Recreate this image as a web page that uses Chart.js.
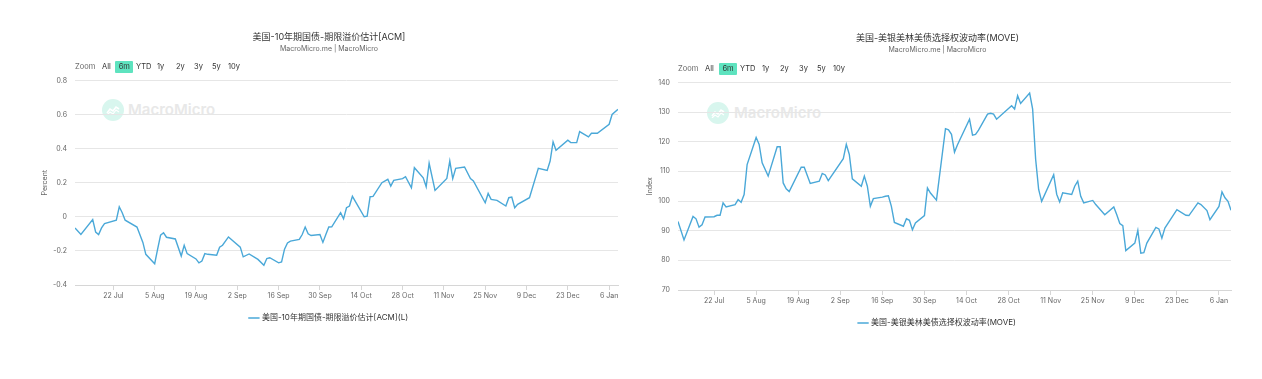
<!DOCTYPE html>
<html>
<head>
<meta charset="utf-8">
<script src="https://cdn.jsdelivr.net/npm/chart.js@4.4.0/dist/chart.umd.min.js"></script>
<style>
  html, body { margin: 0; padding: 0; background: #fff; }
  body { width: 1262px; height: 379px; position: relative; overflow: hidden;
         font-family: Inter, "Noto Sans CJK SC", sans-serif; }
  .wrap { position: absolute; top: 0; height: 379px; }
  .wrap canvas { position: absolute; left: 0; top: 0; }
  .rs { position: absolute; font-size: 7.5px; color: #333; height: 12px; line-height: 12px; white-space: nowrap; }
  .rs.label { color: #666; }
  .rs.sel { background: #5ee3bf; text-align: center; border-radius: 1px; }
  .wm { position: absolute; }
  .wm .dot { position: absolute; width: 22px; height: 22px; border-radius: 50%; background: #d8f6ee; }
  .wm .txt { position: absolute; font-size: 15px; font-weight: 600; color: #e8e8e8; line-height: 18px; white-space: nowrap; }
</style>
</head>
<body>
<script>
// ---------------- DATA ----------------
// ACM 10Y term premium (percent), dates are MM-DD (Jul–Dec 2024, Jan 2025)
const acmDates = ['07-09','07-11','07-15','07-16','07-17','07-18','07-19','07-23','07-24','07-25','07-26','07-30',
  '08-01','08-02','08-05','08-06','08-07','08-08','08-09','08-12','08-14','08-15','08-16','08-19','08-20','08-21',
  '08-22','08-23','08-26','08-27','08-28','08-30','09-03','09-04','09-06','09-09','09-11','09-12','09-13','09-16',
  '09-17','09-18','09-19','09-20','09-23','09-24','09-25','09-26','09-27','09-30','10-01','10-02','10-03','10-04',
  '10-07','10-08','10-09','10-10','10-11','10-15','10-16','10-17','10-18','10-21','10-23','10-24','10-25','10-28',
  '10-29','10-31','11-01','11-04','11-05','11-06','11-08','11-12','11-13','11-14','11-15','11-18','11-20','11-21',
  '11-25','11-26','11-27','11-29','12-02','12-03','12-04','12-05','12-06','12-10','12-13','12-16','12-17','12-18',
  '12-19','12-23','12-24','12-26','12-27','12-30','12-31','01-02','01-06','01-07','01-09'];
const acmValues = [-0.065,-0.104,-0.016,-0.09,-0.104,-0.065,-0.04,-0.02,0.059,0.024,-0.02,-0.06,
  -0.15,-0.22,-0.275,-0.19,-0.108,-0.094,-0.12,-0.13,-0.23,-0.167,-0.216,-0.247,-0.27,-0.26,
  -0.216,-0.22,-0.225,-0.178,-0.167,-0.118,-0.178,-0.235,-0.218,-0.25,-0.284,-0.245,-0.24,-0.27,
  -0.265,-0.19,-0.153,-0.143,-0.133,-0.104,-0.06,-0.1,-0.11,-0.104,-0.15,-0.104,-0.06,-0.059,
  0.024,-0.012,0.053,0.063,0.12,0.0,0.004,0.118,0.12,0.2,0.22,0.18,0.214,0.224,
  0.235,0.17,0.288,0.229,0.176,0.314,0.155,0.225,0.327,0.224,0.284,0.292,0.224,0.21,
  0.082,0.137,0.102,0.096,0.063,0.112,0.116,0.053,0.073,0.112,0.284,0.272,0.327,0.44,
  0.39,0.449,0.435,0.435,0.5,0.469,0.49,0.49,0.543,0.6,0.63];

// MOVE index
const moveDates = ['07-10','07-12','07-15','07-16','07-17','07-18','07-19','07-22','07-23','07-24','07-25','07-26',
  '07-29','07-30','07-31','08-01','08-02','08-05','08-06','08-07','08-09','08-12','08-13','08-14','08-15','08-16',
  '08-20','08-21','08-23','08-26','08-27','08-28','08-29','09-03','09-04','09-05','09-06','09-09','09-10','09-11',
  '09-12','09-13','09-16','09-17','09-18','09-19','09-20','09-23','09-24','09-25','09-26','09-27','09-30','10-01',
  '10-02','10-04','10-07','10-08','10-09','10-10','10-11','10-15','10-16','10-17','10-18','10-21','10-22','10-23',
  '10-24','10-29','10-30','10-31','11-01','11-04','11-05','11-06','11-07','11-08','11-12','11-13','11-14','11-15',
  '11-18','11-19','11-20','11-21','11-22','11-25','11-26','11-29','12-02','12-03','12-04','12-05','12-06','12-09',
  '12-10','12-11','12-12','12-13','12-16','12-17','12-18','12-19','12-23','12-26','12-27','12-30','12-31','01-02',
  '01-03','01-06','01-07','01-08','01-09','01-10'];
const moveValues = [93.1,86.9,94.8,94.0,91.2,92.0,94.6,94.7,95.2,95.2,99.4,98.0,
  98.8,100.5,99.6,102.2,112.3,121.4,119.1,112.9,108.4,118.3,118.3,106.1,104.1,103.2,
  111.4,111.4,105.9,106.7,109.3,108.8,106.9,114.3,119.1,115.7,107.5,105.0,108.4,105.0,
  98.2,100.8,101.3,101.6,101.8,98.2,92.8,91.5,94.0,93.5,90.3,92.6,95.1,104.4,
  102.7,100.3,124.4,124.0,122.5,116.5,119.0,127.6,122.2,122.5,123.9,129.3,129.6,129.3,
  127.6,132.1,131.0,135.5,132.9,136.4,131.0,114.1,103.9,99.9,108.9,102.3,99.7,102.8,
  102.2,105.0,106.7,101.6,99.4,100.2,98.8,95.4,98.0,95.4,92.4,91.7,83.3,85.8,
  90.1,82.4,82.6,85.8,91.1,90.6,87.5,90.9,97.1,95.2,95.1,99.4,98.8,96.8,
  93.7,98.2,103.1,101.1,99.9,96.9];

// x-axis tick dates and labels
const tickDates = ['07-22','08-05','08-19','09-02','09-16','09-30','10-14','10-28','11-11','11-25','12-09','12-23','01-06'];
const tickLabels = ['22 Jul','5 Aug','19 Aug','2 Sep','16 Sep','30 Sep','14 Oct','28 Oct','11 Nov','25 Nov','9 Dec','23 Dec','6 Jan'];

const acmTitle = '美国-10年期国债-期限溢价估计[ACM]';
const acmLegend = '美国-10年期国债-期限溢价估计[ACM](L)';
const moveTitle = '美国-美银美林美债选择权波动率(MOVE)';
const moveLegend = '美国-美银美林美债选择权波动率(MOVE)';
const subtitleText = 'MacroMicro.me | MacroMicro';
const rangeButtons = ['All','6m','YTD','1y','2y','3y','5y','10y'];
const acmYTicks = {min: -0.4, max: 0.8, step: 0.2};
const moveYTicks = {min: 70, max: 140, step: 10};

// ---------------- HELPERS ----------------
const BASE = Date.UTC(2024, 6, 22);
function dayNum(md) {
  const [m, d] = md.split('-').map(Number);
  const y = m < 7 ? 2025 : 2024;
  return (Date.UTC(y, m - 1, d) - BASE) / 86400000;
}
const tickDays = tickDates.map(dayNum);

Chart.defaults.font.family = "Inter, 'Noto Sans CJK SC', sans-serif";
Chart.defaults.color = '#666';

function addRangeSelector(xs, cy) {
  const items = [['Zoom', xs[0], 'label']].concat(rangeButtons.map((t, i) => [t, xs[i + 1], t === '6m' ? 'sel' : '']));
  items.forEach(([t, x, cls]) => {
    const s = document.createElement('div');
    s.className = 'rs ' + cls;
    s.textContent = t;
    s.style.left = x + 'px';
    s.style.top = (cy - 6) + 'px';
    if (cls === 'sel') s.style.width = '18px';
    document.body.appendChild(s);
  });
}
function addWatermark(cx, cy, tx) {
  const w = document.createElement('div');
  w.className = 'wm';
  w.innerHTML = `<div class="dot" style="left:${cx - 11}px;top:${cy - 11}px"></div>
    <svg style="position:absolute;left:${cx - 7}px;top:${cy - 5}px" width="14" height="10" viewBox="0 0 14 10">
      <polyline points="1,8 4,4 7,6 10,2 13,4" fill="none" stroke="#fff" stroke-width="1.6"/>
      <polyline points="1,10 4,7 7,9 10,5 13,7" fill="none" stroke="#fff" stroke-width="1.2"/></svg>
    <div class="txt" style="left:${tx}px;top:${cy - 9}px">MacroMicro</div>`;
  document.body.appendChild(w);
}

function makeChart(g, dates, values, title, legend, yTitle, yT) {
  const wrap = document.createElement('div');
  wrap.className = 'wrap';
  wrap.style.left = g.left + 'px';
  wrap.style.width = g.width + 'px';
  const cv = document.createElement('canvas');
  cv.width = g.width; cv.height = 379;
  wrap.appendChild(cv);
  document.body.appendChild(wrap);
  const pts = dates.map((d, i) => ({x: dayNum(d), y: values[i]}));
  new Chart(cv, {
    type: 'line',
    data: { datasets: [{
      label: legend, data: pts,
      borderColor: '#4aa8d8', backgroundColor: '#4aa8d8',
      borderWidth: 1.4, pointRadius: 0, tension: 0, fill: false
    }]},
    options: {
      responsive: false, animation: false, devicePixelRatio: 1,
      layout: { padding: { left: g.pad, right: g.pad, top: 0, bottom: g.padBottom } },
      plugins: {
        title: { display: true, text: title, color: '#333', font: { size: 9, weight: 'normal' },
                 padding: { top: g.titleTop, bottom: 0 } },
        subtitle: { display: true, text: subtitleText, color: '#666', font: { size: 7 },
                    padding: { top: g.subTop, bottom: g.subBottom } },
        legend: { display: true, position: 'bottom',
          labels: { color: '#333', font: { size: 8 }, usePointStyle: true, pointStyle: 'line',
                    boxWidth: 8, padding: 11.6 } },
        tooltip: { enabled: false }
      },
      scales: {
        x: {
          type: 'linear', min: pts[0].x, max: pts[pts.length - 1].x,
          afterBuildTicks: s => { s.ticks = tickDays.map(v => ({ value: v })); },
          ticks: { autoSkip: false, maxRotation: 0, padding: 2, font: { size: 7 }, color: '#666',
                   callback: (v) => { const i = tickDays.indexOf(v); return i >= 0 ? tickLabels[i] : ''; } },
          grid: { drawOnChartArea: false, drawTicks: true, tickLength: 5, color: '#d6d6d6' },
          border: { display: true, color: '#d6d6d6' }
        },
        y: {
          min: yT.min, max: yT.max,
          afterFit: s => { s.width = g.plotLeft - g.pad; },
          ticks: { stepSize: yT.step, padding: 8, font: { size: 7 }, color: '#666',
                   callback: v => String(Number(v.toFixed(1))) },
          grid: { color: '#e6e6e6', drawTicks: false },
          border: { display: false },
          title: { display: true, text: yTitle, color: '#666', font: { size: 7 },
                   padding: { top: g.yTitlePad, bottom: 0 } }
        }
      }
    }
  });
}

// ---------------- BUILD ----------------
addWatermark(113, 110, 128);
addWatermark(718, 113, 734);

makeChart({ left: 0, width: 658, plotLeft: 75, pad: 40, padBottom: 47,
            titleTop: 31.8, subTop: 1.9, subBottom: 27.5, yTitlePad: 0.8 },
          acmDates, acmValues, acmTitle, acmLegend, 'Percent', acmYTicks);
makeChart({ left: 613, width: 649, plotLeft: 65, pad: 31, padBottom: 42,
            titleTop: 32.6, subTop: 2.5, subBottom: 28.1, yTitlePad: 1.8 },
          moveDates, moveValues, moveTitle, moveLegend, 'Index', moveYTicks);

addRangeSelector([75, 102, 115.3, 136, 157, 176, 194, 212, 228], 67);
addRangeSelector([678, 705, 719, 740, 762, 780, 799, 817, 833], 69);
</script>
</body>
</html>
